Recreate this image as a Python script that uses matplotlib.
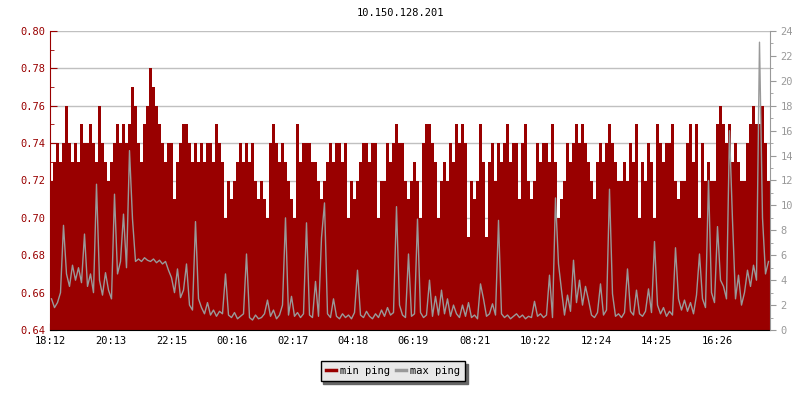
import numpy as np
import matplotlib
matplotlib.use('Agg')
import matplotlib.pyplot as plt
from matplotlib.ticker import MultipleLocator, FormatStrFormatter

plt.rcParams['font.family'] = ['DejaVu Sans Mono']

# 主机与数据（每 6 分钟一个采样点，共 24 小时）
host = '10.150.128.201'
sample_minutes = 6

# min ping（左轴，ms）
min_ping = [
    0.72, 0.73, 0.74, 0.73, 0.74, 0.76, 0.74, 0.73, 0.74, 0.73,
    0.75, 0.74, 0.74, 0.75, 0.74, 0.73, 0.76, 0.74, 0.73, 0.72,
    0.73, 0.74, 0.75, 0.74, 0.75, 0.74, 0.75, 0.77, 0.76, 0.74,
    0.73, 0.75, 0.76, 0.78, 0.77, 0.76, 0.75, 0.74, 0.73, 0.74,
    0.74, 0.71, 0.73, 0.74, 0.75, 0.75, 0.74, 0.73, 0.74, 0.73,
    0.74, 0.73, 0.74, 0.74, 0.73, 0.75, 0.74, 0.73, 0.70, 0.72,
    0.71, 0.72, 0.73, 0.74, 0.73, 0.74, 0.73, 0.74, 0.72, 0.71,
    0.72, 0.71, 0.70, 0.74, 0.75, 0.74, 0.73, 0.74, 0.73, 0.72,
    0.71, 0.70, 0.75, 0.73, 0.74, 0.74, 0.74, 0.73, 0.73, 0.72,
    0.71, 0.72, 0.73, 0.74, 0.73, 0.74, 0.74, 0.73, 0.74, 0.70,
    0.72, 0.71, 0.72, 0.73, 0.74, 0.74, 0.73, 0.74, 0.74, 0.70,
    0.72, 0.72, 0.74, 0.73, 0.74, 0.75, 0.74, 0.74, 0.72, 0.71,
    0.72, 0.73, 0.72, 0.70, 0.74, 0.75, 0.75, 0.74, 0.73, 0.70,
    0.72, 0.73, 0.72, 0.74, 0.73, 0.75, 0.74, 0.75, 0.74, 0.69,
    0.72, 0.71, 0.72, 0.75, 0.73, 0.69, 0.73, 0.74, 0.72, 0.74,
    0.73, 0.74, 0.75, 0.73, 0.74, 0.74, 0.71, 0.74, 0.75, 0.72,
    0.71, 0.72, 0.74, 0.73, 0.74, 0.74, 0.73, 0.75, 0.73, 0.70,
    0.71, 0.72, 0.74, 0.73, 0.74, 0.75, 0.74, 0.75, 0.74, 0.73,
    0.72, 0.71, 0.73, 0.74, 0.73, 0.74, 0.75, 0.74, 0.73, 0.72,
    0.72, 0.73, 0.72, 0.74, 0.73, 0.75, 0.70, 0.73, 0.72, 0.74,
    0.73, 0.70, 0.75, 0.74, 0.73, 0.74, 0.74, 0.75, 0.72, 0.71,
    0.72, 0.72, 0.74, 0.75, 0.73, 0.75, 0.70, 0.74, 0.72, 0.73,
    0.72, 0.72, 0.75, 0.76, 0.75, 0.74, 0.75, 0.73, 0.74, 0.73,
    0.72, 0.72, 0.74, 0.75, 0.76, 0.75, 0.75, 0.76, 0.74, 0.72,
]

# max ping（右轴，ms）
max_ping = [
    2.5, 1.8, 2.2, 3.0, 8.4, 4.5, 3.5, 5.2, 4.0, 5.0,
    3.8, 7.7, 3.5, 4.5, 3.0, 11.7, 4.0, 2.8, 4.6, 3.2,
    2.5, 10.9, 4.5, 5.5, 9.3, 5.0, 14.4, 8.9, 5.5, 5.7,
    5.5, 5.8, 5.6, 5.5, 5.7, 5.4, 5.6, 5.3, 5.5, 4.8,
    4.2, 3.0, 4.9, 2.6, 3.2, 5.3, 2.0, 1.6, 8.7, 2.5,
    1.8, 1.3, 2.2, 1.2, 1.6, 1.1, 1.5, 1.3, 4.5, 1.2,
    1.0, 1.4, 0.9, 1.1, 1.3, 6.1, 1.0, 0.8, 1.2, 0.9,
    1.0, 1.3, 2.4, 1.1, 1.6, 0.9, 1.2, 2.0, 9.0, 1.2,
    2.7, 1.1, 1.4, 1.0, 1.3, 8.6, 1.2, 1.0, 3.9, 1.1,
    7.4, 10.2, 1.3, 1.0, 2.5, 1.1, 0.9, 1.3, 1.0, 1.2,
    0.9, 1.4, 4.8, 1.2, 1.0, 1.5, 1.1, 0.9, 1.3, 1.0,
    1.6, 1.1, 1.8, 1.2, 1.4, 9.9, 2.0, 1.2, 1.0, 6.1,
    1.1, 1.3, 8.9, 1.4, 1.0, 1.2, 4.0, 1.1, 2.7, 1.2,
    3.2, 1.3, 2.5, 1.1, 2.0, 1.3, 1.0, 2.0, 1.1, 2.2,
    1.0, 1.2, 0.9, 3.7, 2.5, 1.1, 1.3, 2.1, 1.2, 8.8,
    1.3, 1.0, 1.2, 0.9, 1.1, 1.3, 1.0, 1.2, 0.9, 1.1,
    1.0, 2.3, 1.1, 1.3, 1.0, 1.2, 4.4, 1.0, 10.6, 5.3,
    3.2, 1.2, 2.8, 1.5, 5.6, 2.2, 4.0, 2.0, 3.5, 2.4,
    1.2, 1.0, 1.4, 3.7, 1.2, 1.6, 11.3, 2.9, 1.1, 1.3,
    1.0, 1.4, 4.9, 1.5, 1.2, 3.2, 1.3, 1.1, 1.5, 3.3,
    1.4, 7.1, 2.0, 1.3, 1.8, 1.1, 1.5, 1.2, 6.6, 2.5,
    1.6, 2.4, 1.5, 2.2, 1.3, 2.8, 6.1, 2.5, 1.8, 12.0,
    3.0, 2.2, 8.3, 4.0, 3.5, 2.5, 16.0, 8.8, 2.5, 4.4,
    2.0, 3.0, 4.8, 3.5, 5.2, 4.0, 23.1, 9.0, 4.5, 5.5,
]

# x 轴刻度（距 18:12 的分钟数）
tick_minutes = [0, 121, 243, 364, 485, 606, 727, 849, 970, 1092, 1213, 1334]
tick_labels = ['18:12', '20:13', '22:15', '00:16', '02:17', '04:18',
               '06:19', '08:21', '10:22', '12:24', '14:25', '16:26']

RED = '#990000'
GRAY = '#999999'

t = np.arange(len(min_ping) + 1) * sample_minutes
mn = np.append(min_ping, min_ping[-1])
t_mx = (np.arange(len(max_ping)) + 0.5) * sample_minutes

fig = plt.figure(figsize=(8, 4), dpi=100)
ax = fig.add_axes([50 / 800, 70 / 400, 720 / 800, 299 / 400])
ax2 = ax.twinx()

ax.fill_between(t, 0.64, mn, step='post', color=RED, linewidth=0, zorder=2)
ax2.plot(t_mx, max_ping, color=GRAY, linewidth=1, zorder=3)

ax.set_xlim(0, len(min_ping) * sample_minutes)
ax.set_ylim(0.64, 0.80)
ax2.set_ylim(0, 24)

ax.set_axisbelow(True)
ax.yaxis.grid(True, color='#c0c0c0', linewidth=1)
ax.yaxis.set_major_locator(MultipleLocator(0.02))
ax.yaxis.set_minor_locator(MultipleLocator(0.01))
ax.yaxis.set_major_formatter(FormatStrFormatter('%.2f'))
ax2.yaxis.set_major_locator(MultipleLocator(2))
ax2.yaxis.set_minor_locator(MultipleLocator(1))

ax.set_xticks(tick_minutes)
ax.set_xticklabels(tick_labels)

for s in ['top', 'right']:
    ax.spines[s].set_visible(False)
for s in ['top', 'left', 'bottom']:
    ax2.spines[s].set_visible(False)
ax.spines['left'].set_color(RED)
ax.spines['bottom'].set_color('black')
ax2.spines['right'].set_color(GRAY)

ax.tick_params(axis='x', direction='in', length=5, colors='black', labelsize=7.5, pad=4)
ax.tick_params(axis='y', which='major', direction='in', length=5, colors=RED, labelsize=7.5)
ax.tick_params(axis='y', which='minor', direction='in', length=3, colors=RED)
ax2.tick_params(axis='y', which='major', direction='out', length=4, colors=GRAY, labelsize=7.5)
ax2.tick_params(axis='y', which='minor', direction='out', length=2, colors=GRAY)

fig.text(0.5, 1 - 13 / 400, host, ha='center', va='center', fontsize=7.5)

h1 = plt.Line2D([], [], color=RED, linewidth=2.5)
h2 = plt.Line2D([], [], color=GRAY, linewidth=2.5)
leg = fig.legend([h1, h2], ['min ping', 'max ping'], loc='center',
                 bbox_to_anchor=(393 / 800, 1 - 371 / 400), ncol=2,
                 fontsize=7.5, frameon=True, fancybox=False,
                 facecolor='#e8e8e8', edgecolor='black', framealpha=1,
                 handlelength=1.0, handletextpad=0.4, columnspacing=0.5,
                 borderpad=0.5, shadow={'color': '#666666', 'alpha': 1})
leg.get_frame().set_linewidth(1)

fig.savefig('out.png', dpi=100)
